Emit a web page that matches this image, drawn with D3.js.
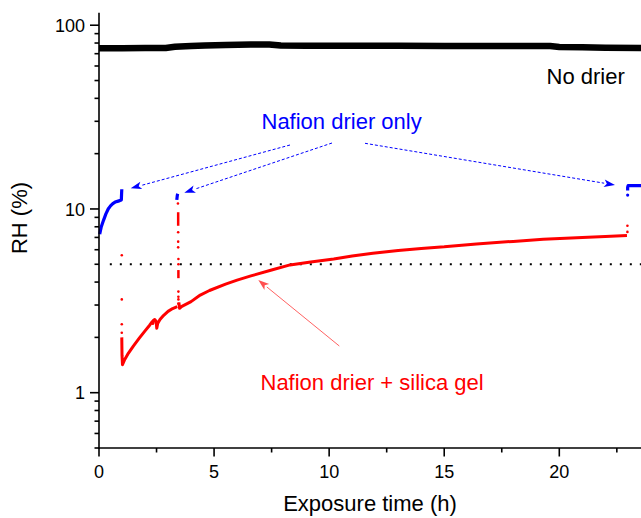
<!DOCTYPE html>
<html><head><meta charset="utf-8">
<script src="https://cdn.jsdelivr.net/npm/d3@7/dist/d3.min.js"></script>
<style>body{margin:0;background:#fff}svg{display:block;font-family:Arial,"Liberation Sans",sans-serif}</style>
</head><body><svg id="c" width="641" height="518"></svg>
<script>
// ---- data (time in h, RH in %) ----
const noDrierT  = [0, 1, 2, 2.9, 3.3, 4.0, 4.6, 5.5, 6.6, 7.4, 7.9, 9, 11, 13, 15, 17, 19.6, 20, 21, 22, 23.55];
const noDrierRH = [75, 75, 75.1, 75.2, 76.3, 77, 77.6, 78, 78.6, 78.6, 77.6, 77.4, 77.3, 77.3, 77.2, 77.1, 77, 76.2, 75.8, 75.4, 75.1];

const blue1T  = [0.03, 0.1, 0.2, 0.3, 0.4, 0.5, 0.6, 0.7, 0.8, 0.9, 0.97, 0.98, 0.99];
const blue1RH = [7.3, 8.0, 8.7, 9.4, 10.0, 10.4, 10.7, 10.9, 11.0, 11.1, 11.2, 12.0, 12.8];
const blue2T  = [3.38, 3.39, 3.40, 3.41, 3.42];
const blue2RH = [11.2, 11.5, 11.8, 12.0, 12.1];
const blue3T  = [22.97, 22.97, 22.99, 23.05, 23.3, 23.55];
const blue3RH = [12.6, 13.1, 13.4, 13.4, 13.4, 13.4];
const blueDotT  = [22.97];
const blueDotRH = [11.9];

const red1T  = [0.99, 1.0, 1.02, 1.1, 1.25, 1.5, 1.75, 2.0, 2.2, 2.32, 2.34, 2.36, 2.42, 2.48, 2.51, 2.55, 2.65, 2.8, 3.0, 3.2, 3.4];
const red1RH = [2.0, 1.6, 1.42, 1.5, 1.62, 1.8, 1.98, 2.17, 2.33, 2.44, 2.38, 2.47, 2.5, 2.45, 2.24, 2.38, 2.5, 2.63, 2.77, 2.87, 2.94];
const red2T  = [3.47, 3.5, 3.6, 4.0, 4.4, 4.8, 5.5, 6.0, 6.6, 7.5, 8.3, 9.2, 10.2, 11.0, 11.9, 13.0, 14.0, 15.0, 16.4, 18.0, 19.3, 21.0, 22.0, 22.94];
const red2RH = [3.1, 2.88, 2.95, 3.13, 3.40, 3.6, 3.9, 4.1, 4.32, 4.65, 4.96, 5.15, 5.34, 5.55, 5.74, 5.95, 6.1, 6.22, 6.45, 6.66, 6.84, 7.0, 7.08, 7.16];
const redJumpT  = [3.44, 3.44, 3.45, 3.45];
const redJumpRH = [9.6, 8.1, 4.65, 4.2];
const redDotsT  = [0.99, 0.99, 0.99, 0.99, 3.43, 3.44, 3.44, 3.44, 3.45, 3.45, 3.45, 3.45, 3.45, 3.45, 22.96, 22.96];
const redDotsRH = [5.6, 3.22, 2.36, 2.12, 10.7, 7.47, 6.64, 6.18, 5.34, 5.0, 3.55, 3.33, 3.22, 3.05, 8.1, 7.5];

const refRH = 5;
const xTicks = [0, 5, 10, 15, 20];
const xMinor = [2.5, 7.5, 12.5, 17.5, 22.5];
const yTicks = [1, 10, 100];
const yMinor = [0.5, 0.6, 0.7, 0.8, 0.9, 2, 3, 4, 5, 6, 7, 8, 9, 20, 30, 40, 50, 60, 70, 80, 90];

// ---- layout ----
const svg = d3.select("#c");
const x = d3.scaleLinear().domain([0, 23.55]).range([99, 641]);
const y = d3.scaleLog().domain([0.5, 117]).range([448, 12.7]);

const zip = (a, b) => a.map((v, i) => [v, b[i]]);
const line = d3.line().x(d => x(d[0])).y(d => y(d[1]));

// reference dotted line
svg.append("line").attr("x1", x(0.47)).attr("x2", 641)
  .attr("y1", y(refRH)).attr("y2", y(refRH))
  .attr("stroke", "#000").attr("stroke-width", 2).attr("stroke-dasharray", "2,8");

// No drier
svg.append("path").attr("d", line(zip(noDrierT, noDrierRH)))
  .attr("fill", "none").attr("stroke", "#000").attr("stroke-width", 6.5).attr("stroke-linejoin", "round");

// Red
const red = "#ff0000", blue = "#0000ff";
[zip(red1T, red1RH), zip(red2T, red2RH)].forEach(d =>
  svg.append("path").attr("d", line(d)).attr("fill", "none").attr("stroke", red)
     .attr("stroke-width", 3).attr("stroke-linejoin", "round"));
svg.append("path").attr("d", line(zip(redJumpT.slice(0,2), redJumpRH.slice(0,2))))
  .attr("fill", "none").attr("stroke", red).attr("stroke-width", 2.5);
svg.append("path").attr("d", line(zip(redJumpT.slice(2), redJumpRH.slice(2))))
  .attr("fill", "none").attr("stroke", red).attr("stroke-width", 2.5);
svg.selectAll("circle.rd").data(zip(redDotsT, redDotsRH)).join("circle").attr("class", "rd")
  .attr("cx", d => x(d[0])).attr("cy", d => y(d[1])).attr("r", 1.3).attr("fill", red);

// Blue
[zip(blue1T, blue1RH), zip(blue2T, blue2RH), zip(blue3T, blue3RH)].forEach(d =>
  svg.append("path").attr("d", line(d)).attr("fill", "none").attr("stroke", blue)
     .attr("stroke-width", 3.2).attr("stroke-linejoin", "round"));
svg.selectAll("circle.bd").data(zip(blueDotT, blueDotRH)).join("circle").attr("class", "bd")
  .attr("cx", d => x(d[0])).attr("cy", d => y(d[1])).attr("r", 1.6).attr("fill", blue);

// ---- axes ----
const ax = svg.append("g").attr("stroke", "#000").attr("stroke-width", 1.6);
ax.append("line").attr("x1", 99).attr("x2", 99).attr("y1", y.range()[1]).attr("y2", 448.8);
ax.append("line").attr("x1", 98.2).attr("x2", 641).attr("y1", 448).attr("y2", 448);
yTicks.forEach(v => ax.append("line").attr("x1", 90).attr("x2", 99).attr("y1", y(v)).attr("y2", y(v)));
yMinor.forEach(v => ax.append("line").attr("x1", 94.5).attr("x2", 99).attr("y1", y(v)).attr("y2", y(v)));
xTicks.forEach(v => ax.append("line").attr("x1", x(v)).attr("x2", x(v)).attr("y1", 448).attr("y2", 456.5));
xMinor.forEach(v => ax.append("line").attr("x1", x(v)).attr("x2", x(v)).attr("y1", 448).attr("y2", 452.5));

svg.selectAll("text.yl").data(yTicks).join("text").attr("class", "yl")
  .attr("x", 85).attr("y", d => y(d) + 6.6).attr("text-anchor", "end")
  .attr("font-size", 18).attr("fill", "#000").text(d => d);
svg.selectAll("text.xl").data(xTicks).join("text").attr("class", "xl")
  .attr("x", d => x(d)).attr("y", 478).attr("text-anchor", "middle")
  .attr("font-size", 18).attr("fill", "#000").text(d => d);

svg.append("text").attr("x", 370).attr("y", 511).attr("text-anchor", "middle")
  .attr("font-size", 22).attr("fill", "#000").text("Exposure time (h)");
svg.append("text").attr("transform", "translate(27,218) rotate(-90)").attr("text-anchor", "middle")
  .attr("font-size", 22).attr("fill", "#000").text("RH (%)");

// ---- annotations ----
svg.append("text").attr("x", 546.5).attr("y", 83.5).attr("font-size", 22).attr("fill", "#000").text("No drier");
svg.append("text").attr("x", 261.5).attr("y", 129).attr("font-size", 22).attr("fill", blue).text("Nafion drier only");
svg.append("text").attr("x", 260.5).attr("y", 390).attr("font-size", 22).attr("fill", red).text("Nafion drier + silica gel");

function arrow(x1, y1, x2, y2, color, dash, w) {
  const a = Math.atan2(y2 - y1, x2 - x1), L = 11, H = 3.8;
  const bx = x2 - L * Math.cos(a), by = y2 - L * Math.sin(a);
  svg.append("line").attr("x1", x1).attr("y1", y1).attr("x2", bx).attr("y2", by)
    .attr("stroke", color).attr("stroke-width", w).attr("stroke-dasharray", dash);
  const p = [[x2, y2],
    [bx + H * Math.sin(a), by - H * Math.cos(a)],
    [x2 - 0.75 * L * Math.cos(a), y2 - 0.75 * L * Math.sin(a)],
    [bx - H * Math.sin(a), by + H * Math.cos(a)]];
  svg.append("path").attr("d", "M" + p.join("L") + "Z").attr("fill", color);
}
arrow(290, 145, 130.7, 188.3, blue, "3,2", 1);
arrow(332, 143, 184.3, 192.7, blue, "3,2", 1);
arrow(365, 143.3, 615, 185, blue, "3,2", 1);
arrow(339.3, 346, 258.3, 280, "#ff5050", null, 0.9);
</script></body></html>
